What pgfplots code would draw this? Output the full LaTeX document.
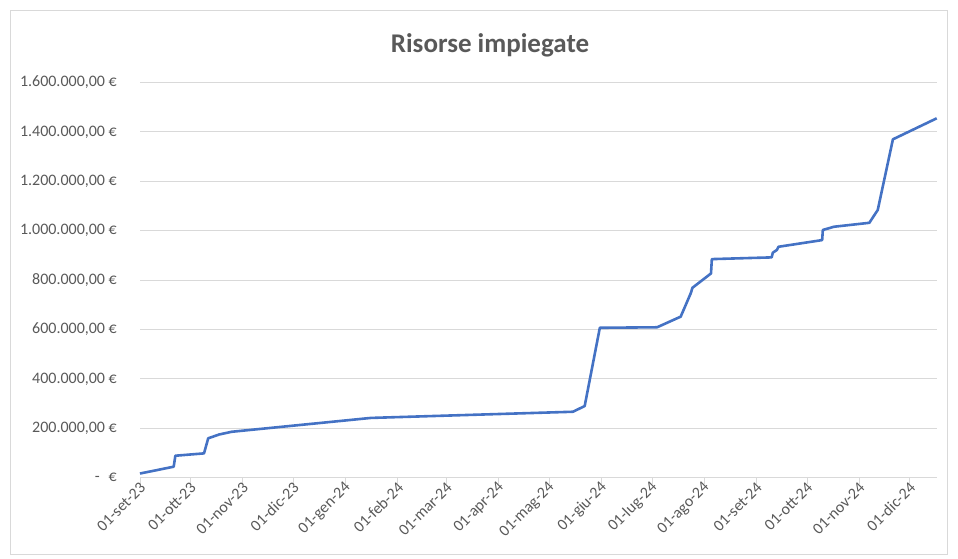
\documentclass[border=0pt]{standalone}
\usepackage{fontspec}
\setmainfont{Carlito}
\usepackage{pgfplots}
\pgfplotsset{compat=1.18}
\definecolor{txt}{HTML}{595959}
\definecolor{gridc}{HTML}{D9D9D9}
\definecolor{linec}{HTML}{4472C4}
\begin{document}
\begin{tikzpicture}[x=1pt,y=1pt]
\path[use as bounding box] (0,0) rectangle (958,558);
\draw[gridc, line width=1pt] (10.5,4) rectangle (947.5,547.5);
\node[text=txt, font=\fontsize{27}{32}\selectfont\bfseries] at (490,513) {Risorse impiegate};
\begin{axis}[
  at={(140pt,80.3pt)}, anchor=south west,
  width=796.7pt, height=395.2pt, scale only axis,
  xmin=0, xmax=473, ymin=0, ymax=1600000,
  scaled y ticks=false, scaled x ticks=false,
  axis x line*=bottom, axis y line*=left,
  y axis line style={draw=none},
  x axis line style={gridc, line width=1pt, -},
  ymajorgrids, grid style={gridc, line width=1pt},
  ytick={0,200000,400000,600000,800000,1000000,1200000,1400000,1600000},
  yticklabels={{-\hspace{9pt}€},{200.000,00 €},{400.000,00 €},{600.000,00 €},{800.000,00 €},{1.000.000,00 €},{1.200.000,00 €},{1.400.000,00 €},{1.600.000,00 €}},
  ytick style={draw=none}, y tick label style={anchor=east, inner sep=0pt, xshift=-17pt},
  xtick={0,30,61,91,122,153,182,213,243,274,304,335,366,396,427,457},
  xticklabels={01-set-23,01-ott-23,01-nov-23,01-dic-23,01-gen-24,01-feb-24,01-mar-24,01-apr-24,01-mag-24,01-giu-24,01-lug-24,01-ago-24,01-set-24,01-ott-24,01-nov-24,01-dic-24},
  xtick style={gridc, line width=1pt}, tick align=outside, major tick length=6pt,
  x tick label style={rotate=45, anchor=east, inner sep=2pt, xshift=3pt, yshift=-3pt},
  tick label style={text=txt, font=\fontsize{16}{19}\selectfont},
  clip=false,
]
\addplot[linec, line width=2.6pt, line join=round, mark=none] coordinates {
(0,17000) (20,44500) (21,89000) (38,98500) (40.5,159500) (47,175000) (54.5,186000)
(137,242000) (257,267000) (264,290000) (273,607000) (307,609000)
(321,652000) (327,747000) (328,769000) (339,827000) (339.5,885000)
(375,892000) (375.7,911000) (378.1,922000) (379.1,935000)
(405,962000) (405.4,1003000) (412,1016000) (433,1032000) (438,1084000)
(447,1370000) (473,1455000)
};
\end{axis}
\end{tikzpicture}
\end{document}
